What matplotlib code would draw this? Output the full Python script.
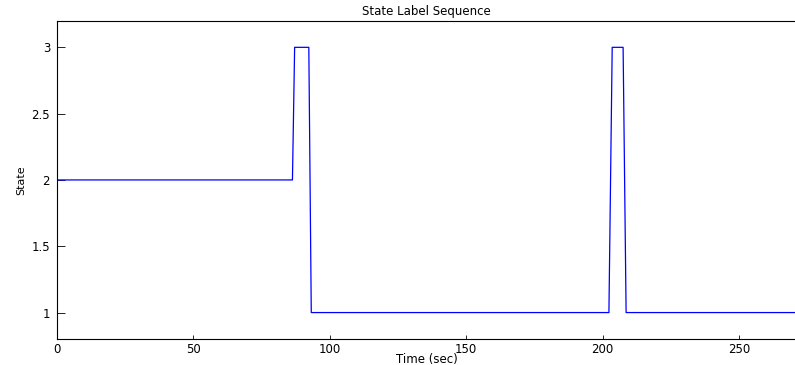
import matplotlib
matplotlib.use("Agg")
import matplotlib.pyplot as plt

# state label sequence (time in sec, state)
times = [0, 86.3, 87.1, 92.3, 93.2, 202.3, 203.5, 207.5, 208.6, 271]
states = [2, 2, 3, 3, 1, 1, 3, 3, 1, 1]

xticks = [0, 50, 100, 150, 200, 250]
yticks = [1, 1.5, 2, 2.5, 3]

plt.rcParams['font.family'] = ['DejaVu Sans']

fig = plt.figure(figsize=(7.95, 3.65), dpi=100)
ax = fig.add_axes([0.0717, 0.071, 0.93, 0.872])

ax.plot(times, states, color='#0000ff', lw=0.9)

ax.set_xlim(0, 271)
ax.set_ylim(0.8, 3.2)
ax.set_xticks(xticks)
ax.set_yticks(yticks)
ax.set_yticklabels(['1', '1.5', '2', '2.5', '3'])
ax.tick_params(axis='x', direction='in', length=3, width=0.6, labelsize=8.5, pad=3)
ax.tick_params(axis='y', direction='in', length=6, width=0.6, labelsize=8.5, pad=5)
for s in ax.spines.values():
    s.set_linewidth(0.8)

ax.set_title('State Label Sequence', fontsize=8.5, pad=4)
ax.set_xlabel('Time (sec)', fontsize=8.5, labelpad=-2)
ax.set_ylabel('State', fontsize=8, labelpad=4)

fig.savefig('out.png', dpi=100)
